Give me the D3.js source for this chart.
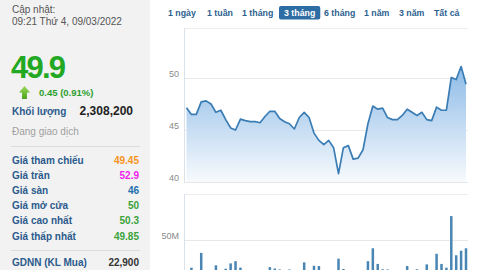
<!DOCTYPE html>
<html>
<head>
<meta charset="utf-8">
<script src="https://cdn.jsdelivr.net/npm/d3@7"></script>
<style>
  body { margin: 0; background: #fff; }
  svg { display: block; font-family: Arial, "Liberation Sans", sans-serif; }
</style>
</head>
<body>
<svg id="chart" width="480" height="270"></svg>
<script>
// daily closing prices, last 3 months
var prices = [47.15, 46.5, 46.5, 47.7, 47.8, 47.5, 46.7, 46.9, 46.0, 45.2,
              45.0, 46.05, 45.9, 45.8, 45.8, 45.7, 46.3, 46.8, 46.8, 46.1,
              45.8, 45.6, 45.1, 46.2, 46.7, 46.2, 44.7, 44.0, 43.6, 44.0,
              43.3, 40.8, 43.3, 43.5, 42.2, 42.3, 43.1, 45.6, 47.3, 47.0,
              47.1, 46.2, 46.0, 46.0, 46.4, 47.0, 46.7, 46.4, 46.7, 46.0,
              45.9, 47.2, 46.9, 46.9, 50.05, 49.85, 51.1, 49.4];
// daily volume (shares)
var volumes = [12e6, 19.9e6, 10e6, 36e6, 9e6, 14e6, 22.5e6, 11e6, 18.8e6, 24.6e6,
               27e6, 20e6, 13e6, 8e6, 15e6, 12e6, 10e6, 20.5e6, 19e6, 18e6,
               14e6, 18e6, 11e6, 9e6, 25.7e6, 13e6, 22e6, 21.7e6, 12e6, 15e6,
               10e6, 29.7e6, 18.5e6, 11e6, 8e6, 13e6, 15e6, 27e6, 41e6, 24e6,
               18.2e6, 18e6, 12e6, 9e6, 14e6, 21.7e6, 11e6, 18.2e6, 15e6, 23.5e6,
               13e6, 35e6, 24e6, 19.9e6, 76e6, 33.4e6, 38.4e6, 41e6];
var priceTicks = [40, 45, 50];
var volumeTicks = [50e6];
var ranges = ["1 ngày", "1 tuần", "1 tháng", "3 tháng", "6 tháng", "1 năm", "3 năm", "Tất cả"];
var activeRange = "3 tháng";

var infoLabels = ["Giá tham chiếu", "Giá trần", "Giá sàn", "Giá mở cửa", "Giá cao nhất", "Giá thấp nhất"];
var infoValues = ["49.45", "52.9", "46", "50", "50.3", "49.85"];
var infoColors = ["#f7941d", "#ee22ee", "#1f6fae", "#3aa33a", "#3aa33a", "#3aa33a"];

var svg = d3.select("#chart");
var defs = svg.append("defs");

//************************ left info panel ************************//
var panel = svg.append("g");
panel.append("rect").attr("x", 0).attr("y", 0).attr("width", 150).attr("height", 270).attr("fill", "#f2f2f2");

panel.append("text").text("Cập nhật:").attr("x", 12).attr("y", 13)
  .attr("font-size", "10px").attr("fill", "#555");
panel.append("text").text("09:21 Thứ 4, 09/03/2022").attr("x", 12).attr("y", 25)
  .attr("font-size", "10px").attr("fill", "#555");

panel.append("text").text("49.9").attr("x", 11).attr("y", 78)
  .attr("font-size", "31px").attr("font-weight", "bold").attr("fill", "#22a822")
  .attr("textLength", 55);

var grad2 = defs.append("linearGradient").attr("id", "arrowg")
  .attr("x1", 0).attr("y1", 0).attr("x2", 0).attr("y2", 1);
grad2.append("stop").attr("offset", "0%").attr("stop-color", "#9ad85a");
grad2.append("stop").attr("offset", "100%").attr("stop-color", "#4aa51c");
panel.append("path").attr("d", "M24.5,86 L30,92.5 L27,92.5 L27,99 L22,99 L22,92.5 L19,92.5 Z")
  .attr("fill", "url(#arrowg)");
panel.append("text").text("0.45 (0.91%)").attr("x", 39).attr("y", 96)
  .attr("font-size", "9.5px").attr("font-weight", "bold").attr("fill", "#2d9e2d");

panel.append("text").text("Khối lượng").attr("x", 12).attr("y", 115)
  .attr("font-size", "10px").attr("font-weight", "bold").attr("fill", "#2b5a8c");
panel.append("text").text("2,308,200").attr("x", 133).attr("y", 115).attr("text-anchor", "end")
  .attr("font-size", "12px").attr("font-weight", "bold").attr("fill", "#222");
panel.append("text").text("Đang giao dịch").attr("x", 12).attr("y", 135)
  .attr("font-size", "10px").attr("fill", "#a0a0a0");
panel.append("line").attr("x1", 11).attr("x2", 140).attr("y1", 146.5).attr("y2", 146.5)
  .attr("stroke", "#dcdcdc");

panel.selectAll("text.lbl").data(infoLabels).enter().append("text").attr("class", "lbl")
  .text(function(d) { return d; })
  .attr("x", 12).attr("y", function(d, i) { return 164 + i * 15.1; })
  .attr("font-size", "10px").attr("font-weight", "bold").attr("fill", "#2b5a8c");
panel.selectAll("text.val").data(infoValues).enter().append("text").attr("class", "val")
  .text(function(d) { return d; })
  .attr("x", 139).attr("y", function(d, i) { return 164 + i * 15.1; }).attr("text-anchor", "end")
  .attr("font-size", "10px").attr("font-weight", "bold")
  .attr("fill", function(d, i) { return infoColors[i]; });
panel.append("line").attr("x1", 11).attr("x2", 140).attr("y1", 250.5).attr("y2", 250.5)
  .attr("stroke", "#dcdcdc");
panel.append("text").text("GDNN (KL Mua)").attr("x", 12).attr("y", 266)
  .attr("font-size", "10px").attr("font-weight", "bold").attr("fill", "#2b5a8c");
panel.append("text").text("22,900").attr("x", 139).attr("y", 266).attr("text-anchor", "end")
  .attr("font-size", "10px").attr("font-weight", "bold").attr("fill", "#333");

//************************ range buttons ************************//
var btnX = [168, 207, 242, 284, 324, 364, 399, 434];
var btns = svg.append("g");
ranges.forEach(function(r, i) {
  var t = btns.append("text").text(r).attr("x", btnX[i]).attr("y", 16)
    .attr("font-size", "8.8px").attr("font-weight", "bold")
    .attr("fill", r == activeRange ? "#fff" : "#2d5f90");
  if (r == activeRange) {
    var w = t.node().getComputedTextLength();
    btns.insert("rect", "text").attr("x", btnX[i] - 5).attr("y", 6).attr("width", w + 10).attr("height", 13.5)
      .attr("rx", 2).attr("fill", "#2e6da4");
  }
});

//************************ price chart ************************//
var x = d3.scaleLinear().domain([0, prices.length - 1]).range([186.5, 466]);
var y = d3.scaleLinear().domain([40, 55]).range([182, 26]);
var vy = d3.scaleLinear().domain([0, 100e6]).range([286, 194]);

var grad = defs.append("linearGradient").attr("id", "areag")
  .attr("gradientUnits", "userSpaceOnUse").attr("x1", 0).attr("y1", 28).attr("x2", 0).attr("y2", 182);
grad.append("stop").attr("offset", "0%").attr("stop-color", "#6aa6e0");
grad.append("stop").attr("offset", "100%").attr("stop-color", "#f7fafd");

var chart = svg.append("g");
chart.append("line").attr("x1", 184).attr("x2", 468).attr("y1", 28.5).attr("y2", 28.5).attr("stroke", "#ececec");
chart.selectAll("line.grid").data(priceTicks).enter().append("line").attr("class", "grid")
  .attr("x1", 184).attr("x2", 468)
  .attr("y1", function(d) { return Math.round(y(d)) + 0.5; })
  .attr("y2", function(d) { return Math.round(y(d)) + 0.5; })
  .attr("stroke", "#e8e8e8");
chart.selectAll("text.tick").data(priceTicks).enter().append("text").attr("class", "tick")
  .text(function(d) { return d; })
  .attr("x", 179).attr("y", function(d) { return y(d) - 1; }).attr("text-anchor", "end")
  .attr("font-size", "9px").attr("fill", "#8a8a8a");

var area = d3.area().x(function(d, i) { return x(i); }).y0(y(40)).y1(function(d) { return y(d); });
var line = d3.line().x(function(d, i) { return x(i); }).y(function(d) { return y(d); });
chart.append("path").datum(prices).attr("d", area).attr("fill", "url(#areag)");
chart.append("path").datum(prices).attr("d", line).attr("fill", "none")
  .attr("stroke", "#3a7db5").attr("stroke-width", 1.7).attr("stroke-linejoin", "round");
chart.append("line").attr("x1", 184.5).attr("x2", 184.5).attr("y1", 28).attr("y2", 182).attr("stroke", "#dbe2ec");

//************************ volume chart ************************//
var vol = svg.append("g");
vol.append("line").attr("x1", 184).attr("x2", 468).attr("y1", 194.5).attr("y2", 194.5).attr("stroke", "#ececec");
vol.selectAll("line.grid").data(volumeTicks).enter().append("line").attr("class", "grid")
  .attr("x1", 184).attr("x2", 468)
  .attr("y1", function(d) { return Math.round(vy(d)) + 0.5; })
  .attr("y2", function(d) { return Math.round(vy(d)) + 0.5; })
  .attr("stroke", "#e8e8e8");
vol.selectAll("text.tick").data(volumeTicks).enter().append("text").attr("class", "tick")
  .text(function(d) { return (d / 1e6) + "M"; })
  .attr("x", 179).attr("y", function(d) { return vy(d) - 1; }).attr("text-anchor", "end")
  .attr("font-size", "9px").attr("fill", "#8a8a8a");
vol.selectAll("rect").data(volumes).enter().append("rect")
  .attr("x", function(d, i) { return x(i) - 1.25; })
  .attr("y", function(d) { return vy(d); })
  .attr("width", 2.5)
  .attr("height", function(d) { return vy(0) - vy(d); })
  .attr("fill", "#4a86b4");
vol.append("line").attr("x1", 184.5).attr("x2", 184.5).attr("y1", 194).attr("y2", 270).attr("stroke", "#dbe2ec");
</script>
</body>
</html>
